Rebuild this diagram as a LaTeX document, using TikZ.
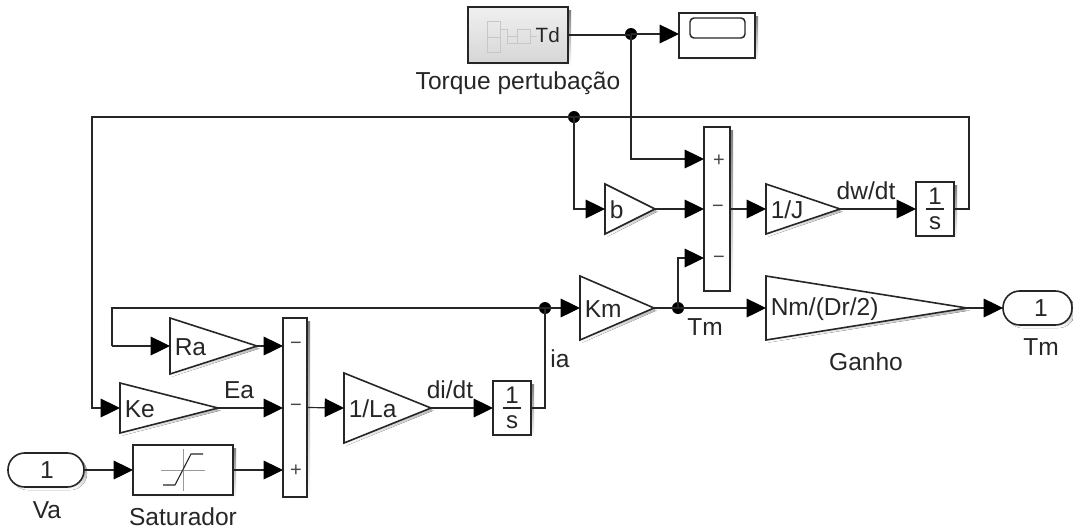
\documentclass[tikz,border=0pt]{standalone}
\usepackage{fontspec}
\setmainfont{Liberation Sans}
\usetikzlibrary{arrows.meta,calc}
\definecolor{ink}{HTML}{262626}
\definecolor{shade}{HTML}{DEDEDE}
\newcommand{\fs}{\fontsize{18.4}{20}\selectfont}
\newcommand{\fsig}{\fontsize{15}{16}\selectfont}
\newcommand{\fint}{\fontsize{18}{18}\selectfont}
\tikzset{
 x=0.75pt,y=-0.75pt,
 wire/.style={draw=ink,line width=0.9pt},
 conn/.style={wire,-{Triangle[length=14.5pt,width=14pt,color=black]}},
 blockbox/.style={draw=ink,line width=1.2pt,fill=white,inner sep=0pt,outer sep=0pt,rectangle},
 label/.style={font=\fs,text=ink,inner sep=0pt},
 dotnode/.style={circle,fill=black,draw=none,minimum size=9pt,inner sep=0pt},
 ghost/.style={inner sep=0pt,outer sep=0pt,rectangle},
 signtext/.style={font=\fsig,text=ink!85,inner sep=0pt},
}
\newcommand{\gainblk}[6]{%
 \node[ghost,minimum width={(#3-#2)*0.75pt},minimum height={(#5-#4)*0.75pt}] (#1) at ({(#2+#3)/2},{(#4+#5)/2}) {};
 \fill[shade] ($(#1.north west)+(2.5,2.5)$) -- ($(#1.east)+(2.5,2.5)$) -- ($(#1.south west)+(2.5,2.5)$) -- cycle;
 \draw[draw=ink,line width=1.2pt,fill=white,line join=miter] (#1.north west) -- (#1.east) -- (#1.south west) -- cycle;
 \node[label,anchor=west] (#1t) at ($(#1.west)+(4.5,1)$) {#6};
}
\newcommand{\boxblk}[6][white]{%
 \fill[shade] ({#3+3},{#5+3}) rectangle ({#4+3},{#6+3});
 \node[blockbox,fill=#1,minimum width={(#4-#3)*0.75pt},minimum height={(#6-#5)*0.75pt}] (#2) at ({(#3+#4)/2},{(#5+#6)/2}) {};
}
\begin{document}
\begin{tikzpicture}
\useasboundingbox (0,0) rectangle (1073,529);
\fill[white] (0,0) rectangle (1073,529);
% Td block
\fill[shade] (471,10) rectangle (571,66);
\node[blockbox,top color=white!94!black,bottom color=white!84!black,minimum width=75pt,minimum height=42pt] (td) at (518,35) {};
\draw[black!22,line width=0.6pt] (487,21) rectangle (500,37) (487,37) rectangle (500,52) (517,29) rectangle (530,43) (500,29) -- (507,29) -- (507,43) -- (517,43) (507,36) -- (517,36) (530,36) -- (537,36);
\node[label,anchor=east,font=\fontsize{15.5}{16}\selectfont] (tdt) at (560,35) {Td};
\node[label] (tdl) at (518,83) {Torque pertubação};
% Scope
\boxblk{scope}{679}{755}{13}{58}
\draw[ink,line width=1.1pt,rounded corners=3pt] (690,18) rectangle (745,38);
% Sums
\boxblk{sumw}{704}{730}{127}{291}
\boxblk{sumi}{283}{307}{318}{497}
\node[signtext] (sw1) at (719,161) {+};
\node[signtext] (sw2) at (718,209) {−};
\node[signtext] (sw3) at (719,260) {−};
\node[signtext] (si1) at (296,346) {−};
\node[signtext] (si2) at (296,408) {−};
\node[signtext] (si3) at (296,471) {+};
\coordinate (sw1p) at (704,159);
\coordinate (sw2p) at (704,209);
\coordinate (sw3p) at (704,258);
\coordinate (si1p) at (283,346);
\coordinate (si2p) at (283,408);
\coordinate (si3p) at (283,470);
% Gains
\gainblk{b}{605}{655}{184}{234}{b}
\gainblk{oneJ}{766}{840}{184}{234}{1/J}
\gainblk{Km}{580}{654}{276}{340}{Km}
\gainblk{Nm}{766}{967}{276}{340}{Nm/(Dr/2)}
\gainblk{Ra}{170}{257}{318}{374}{Ra}
\gainblk{Ke}{120}{218}{383}{433}{Ke}
\gainblk{oneLa}{344}{431}{373}{443}{1/La}
% Integrators
\boxblk{intw}{916}{954}{182}{236}
\draw[ink,line width=0.9pt] (926,209) -- (944,209);
\node[label,font=\fint] (intwa) at (935,196) {1};
\node[label,font=\fint] (intwb) at (935,223) {s};
\boxblk{inti}{493}{531}{381}{435}
\draw[ink,line width=0.9pt] (503,408) -- (521,408);
\node[label,font=\fint] (intia) at (512,395) {1};
\node[label,font=\fint] (intib) at (512,422) {s};
% Saturator
\boxblk{sat}{133}{233}{445}{495}
\draw[black!40,line width=0.5pt] (161,470) -- (205,470) (183,449) -- (183,491);
\draw[ink,line width=0.8pt] (163,485) -- (175,485) -- (191,454) -- (203,454);
\node[label] (satl) at (183,517) {Saturador};
% Ports
\fill[shade,rounded corners=12.5pt] (11,456) rectangle (87,490);
\node[blockbox,rounded corners=12.5pt,minimum width=57pt,minimum height=25.5pt] (va) at (46,470) {};
\node[label] (van) at (47,470) {1};
\node[label] (val) at (47,510) {Va};
\fill[shade,rounded corners=12.5pt] (1006,294) rectangle (1075,328);
\node[blockbox,rounded corners=12.5pt,minimum width=51.75pt,minimum height=25.5pt] (tm) at (1037.5,308) {};
\node[label] (tmn) at (1041,308) {1};
\node[label] (tml) at (1041,347) {Tm};
% Labels
\node[label] (ganho) at (866,362) {Ganho};
\node[label] (tmw) at (705,327) {Tm};
\node[label] (ial) at (560,359) {ia};
\node[label] (eal) at (239,390) {Ea};
\node[label] (dil) at (450,390) {di/dt};
\node[label] (dwl) at (866,191) {dw/dt};
% Junctions
\node[dotnode] (j1) at (631,34) {};
\node[dotnode] (j2) at (574,117) {};
\node[dotnode] (j3) at (545,308) {};
\node[dotnode] (j4) at (678,308) {};
% Connectors
\draw[wire] (td.east) -- (td.east -| j1);
\draw[conn] (j1.center) -- (j1.center -| scope.west);
\draw[conn] (j1.center) -- (j1.center |- sw1p) -- (sw1p);
\draw[conn] (j2.center) -- (j2.center |- b.west) -- (b.west);
\draw[conn] (b.east) -- (sw2p);
\draw[conn] (sumw.east) -- (oneJ.west);
\draw[conn] (oneJ.east) -- (intw.west);
\draw[wire] (intw.east) -- (969,209) -- (969,117) -- (j2.center);
\draw[conn] (j2.center) -- (92,117) -- (92,408) -- (Ke.west);
\draw[conn] (Km.east) -- (Nm.west);
\draw[conn] (j4.center) -- (j4.center |- sw3p) -- (sw3p);
\draw[conn] (Nm.east) -- (tm.west);
\draw[conn] (j3.center) -- (Km.west);
\draw[wire] (inti.east) -- (545,408) -- (j3.center);
\draw[wire] (j3.center) -- (112,308) -- (112,346);
\draw[conn] (112,346) -- (Ra.west);
\draw[conn] (Ra.east) -- (si1p);
\draw[conn] (Ke.east) -- (si2p);
\draw[conn] (sat.east) -- (si3p);
\draw[conn] (va.east) -- (sat.west);
\draw[conn] (sumi.east) -- (oneLa.west);
\draw[conn] (oneLa.east) -- (inti.west);
\end{tikzpicture}
\end{document}
